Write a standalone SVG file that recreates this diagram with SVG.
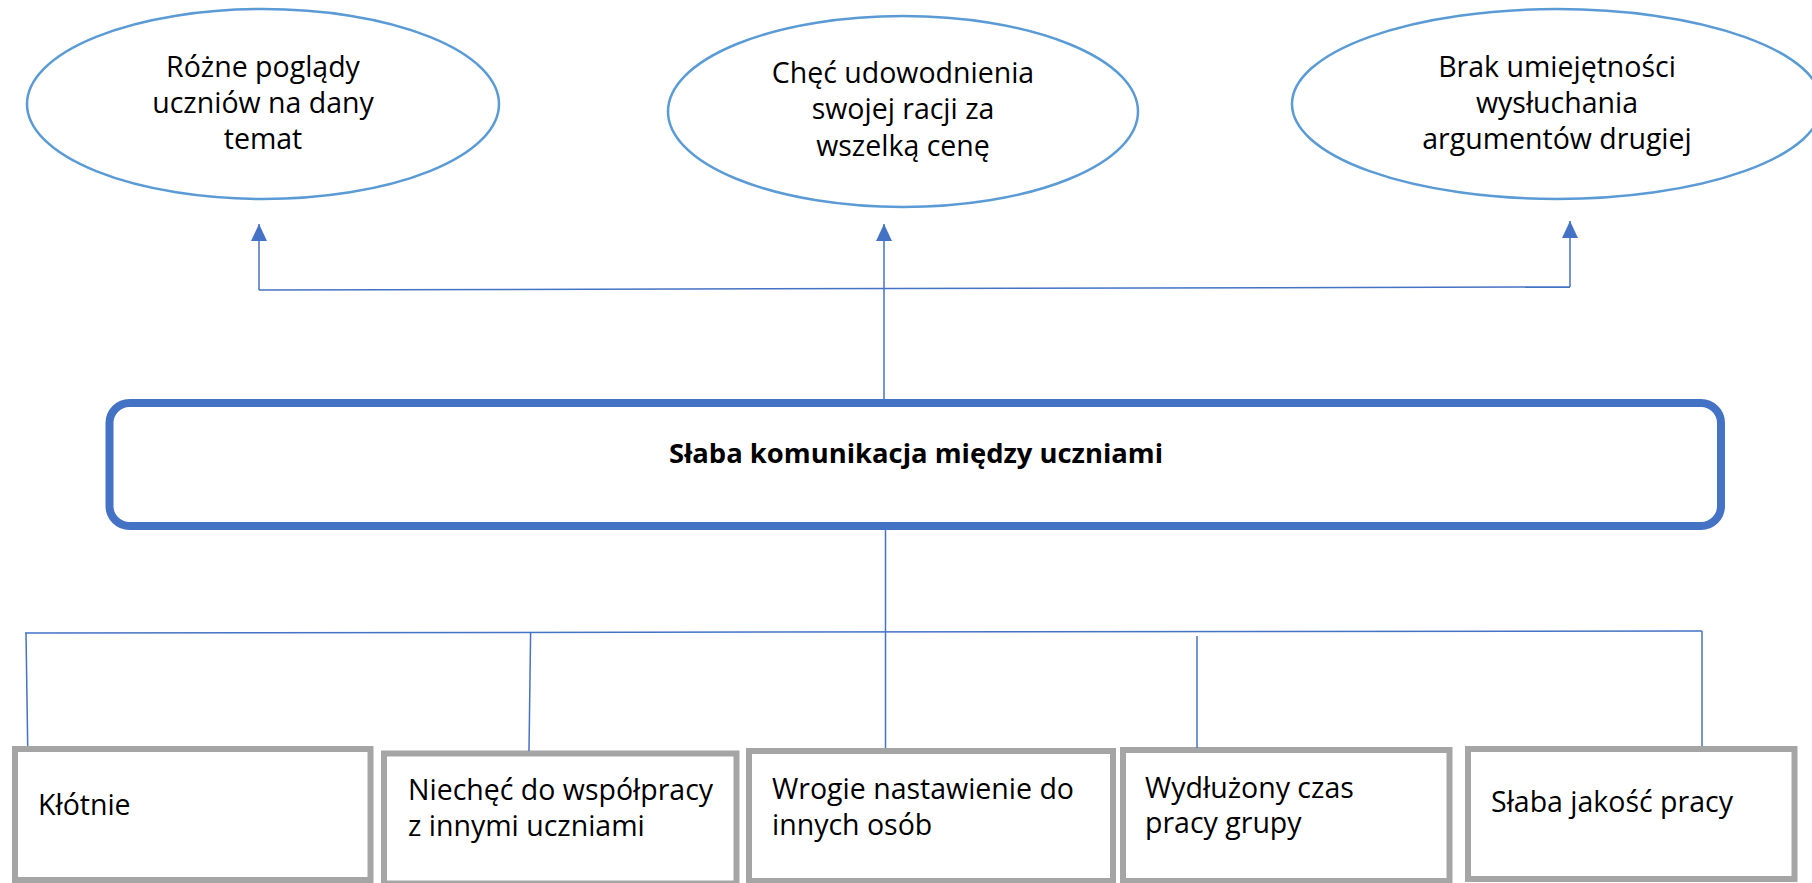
<svg xmlns="http://www.w3.org/2000/svg" width="1812" height="883" viewBox="0 0 1812 883">
<style>
.ell{fill:#fff;stroke:#5B9BD5;stroke-width:2.5}
.main{fill:#fff;stroke:#4472C4;stroke-width:8}
.box{fill:#fff;stroke:#A5A5A5;stroke-width:6}
.t{font-family:"Open Sans","Noto Sans","DejaVu Sans",sans-serif;font-size:28.5px;fill:#000}
.c{text-anchor:middle}
.b{font-weight:bold;font-size:27.4px}
.conn{fill:none;stroke:#4472C4;stroke-width:1.5}
</style>
<defs>
<marker id="arr" markerUnits="userSpaceOnUse" markerWidth="17" markerHeight="16" refX="17" refY="8" orient="auto">
<path d="M0,0 L17,8 L0,16 Z" fill="#4472C4"/>
</marker>
</defs>
<rect width="1812" height="883" fill="#fff"/>
<g id="cause1">
<ellipse class="ell" cx="263" cy="104" rx="236" ry="95"/>
<text class="t c" x="263" y="77">Różne poglądy</text>
<text class="t c" x="263" y="113">uczniów na dany</text>
<text class="t c" x="263" y="149">temat</text>
</g>
<g id="cause2">
<ellipse class="ell" cx="903" cy="111.5" rx="235" ry="95.5"/>
<text class="t c" x="903" y="83">Chęć udowodnienia</text>
<text class="t c" x="903" y="119">swojej racji za</text>
<text class="t c" x="903" y="156">wszelką cenę</text>
</g>
<g id="cause3">
<ellipse class="ell" cx="1557" cy="104" rx="265" ry="95"/>
<text class="t c" x="1557" y="77">Brak umiejętności</text>
<text class="t c" x="1557" y="113">wysłuchania</text>
<text class="t c" x="1557" y="149">argumentów drugiej</text>
</g>
<g id="problem">
<rect class="main" x="109.5" y="403" width="1611.5" height="123" rx="20"/>
<text class="t c b" x="916" y="463">Słaba komunikacja między uczniami</text>
</g>
<g id="effect1">
<rect class="box" x="15" y="749" width="355.5" height="131"/>
<text class="t" x="38" y="815">Kłótnie</text>
</g>
<g id="effect2">
<rect class="box" x="384" y="753.5" width="352.5" height="130"/>
<text class="t" x="408" y="800">Niechęć do współpracy</text>
<text class="t" x="408" y="836">z innymi uczniami</text>
</g>
<g id="effect3">
<rect class="box" x="749" y="751" width="364" height="130"/>
<text class="t" x="772" y="799">Wrogie nastawienie do</text>
<text class="t" x="772" y="835">innych osób</text>
</g>
<g id="effect4">
<rect class="box" x="1123" y="750" width="326.5" height="131"/>
<text class="t" x="1145" y="798">Wydłużony czas</text>
<text class="t" x="1145" y="833">pracy grupy</text>
</g>
<g id="effect5">
<rect class="box" x="1468" y="749" width="326.5" height="130"/>
<text class="t" x="1491" y="812">Słaba jakość pracy</text>
</g>
<g id="connectors">
<path class="conn" d="M259,290 L1570,287"/>
<path class="conn" d="M259,290 V224" marker-end="url(#arr)"/>
<path class="conn" d="M884,399 V224" marker-end="url(#arr)"/>
<path class="conn" d="M1570,287 V221" marker-end="url(#arr)"/>
<path class="conn" d="M885.5,530 V748"/>
<path class="conn" d="M25,633 L1702,631"/>
<path class="conn" d="M26,633 L27.7,746"/>
<path class="conn" d="M530.6,633 L529,751"/>
<path class="conn" d="M1197,636 V748"/>
<path class="conn" d="M1702,631 V746"/>
</g>
</svg>
